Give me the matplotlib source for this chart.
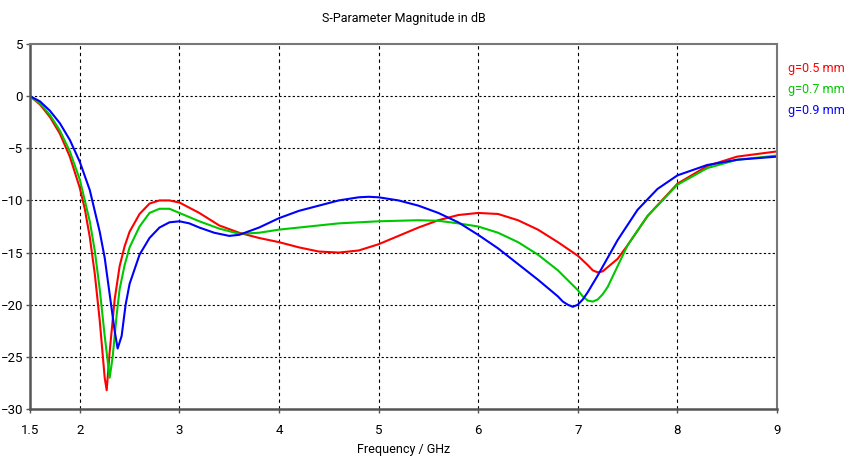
import matplotlib
matplotlib.use("Agg")
import matplotlib.pyplot as plt

plt.rcParams["font.family"] = ["Roboto", "DejaVu Sans"]

# g = 0.5 mm
f_red = [1.5, 1.6, 1.7, 1.8, 1.9, 2.0, 2.05, 2.1, 2.15, 2.2, 2.25, 2.27, 2.3, 2.35, 2.4, 2.45,
         2.5, 2.6, 2.7, 2.8, 2.9, 3.0, 3.2, 3.4, 3.6, 3.8, 4.0, 4.2, 4.4, 4.6, 4.8, 5.0,
         5.2, 5.4, 5.6, 5.8, 6.0, 6.2, 6.4, 6.6, 6.8, 7.0, 7.1, 7.15, 7.2, 7.25, 7.3, 7.4, 7.5, 7.7,
         8.0, 8.3, 8.6, 9.0]
s_red = [0, -0.8, -2.0, -3.6, -5.8, -8.8, -10.8, -13.5, -17, -21.5, -27, -28.2, -24.5, -19.5, -16.3, -14.4,
         -13.0, -11.3, -10.3, -10.0, -10.0, -10.2, -11.2, -12.4, -13.1, -13.6, -14.0, -14.5, -14.9, -15.0, -14.8, -14.2,
         -13.4, -12.6, -11.9, -11.4, -11.2, -11.3, -11.9, -12.8, -14.0, -15.3, -16.2, -16.7, -16.9, -16.8, -16.4, -15.6, -14.3, -11.5,
         -8.4, -6.7, -5.8, -5.3]

# g = 0.7 mm
f_green = [1.5, 1.6, 1.7, 1.8, 1.9, 2.0, 2.1, 2.15, 2.2, 2.25, 2.3, 2.33, 2.37, 2.4, 2.45,
           2.5, 2.6, 2.7, 2.8, 2.9, 3.0, 3.2, 3.4, 3.6, 3.8, 4.0, 4.2, 4.4, 4.6, 4.8, 5.0,
           5.2, 5.4, 5.6, 5.8, 6.0, 6.2, 6.4, 6.6, 6.8, 7.0, 7.05, 7.1, 7.15, 7.2, 7.25, 7.3, 7.4, 7.5, 7.7,
           8.0, 8.3, 8.6, 9.0]
s_green = [0, -0.7, -1.8, -3.3, -5.3, -8.0, -12.0, -14.8, -18.5, -23, -27.0, -25, -21, -18.5, -16.2,
           -14.5, -12.5, -11.2, -10.8, -10.8, -11.2, -12.0, -12.7, -13.2, -13.1, -12.8, -12.6, -12.4, -12.2, -12.1, -12.0,
           -11.95, -11.9, -11.95, -12.2, -12.5, -13.1, -14.0, -15.2, -16.7, -18.6, -19.2, -19.6, -19.7, -19.5, -19.0, -18.3, -16.3, -14.3, -11.5,
           -8.5, -6.9, -6.1, -5.7]

# g = 0.9 mm
f_blue = [1.5, 1.6, 1.7, 1.8, 1.9, 2.0, 2.1, 2.2, 2.25, 2.3, 2.35, 2.38, 2.42, 2.46, 2.5,
          2.6, 2.7, 2.8, 2.9, 3.0, 3.1, 3.2, 3.35, 3.5, 3.6, 3.8, 4.0, 4.2, 4.4, 4.6, 4.8, 4.9,
          5.0, 5.2, 5.4, 5.6, 5.8, 6.0, 6.2, 6.4, 6.6, 6.8, 6.85, 6.9, 6.95, 7.0, 7.05, 7.1, 7.2, 7.4, 7.6,
          7.8, 8.0, 8.3, 8.6, 9.0]
s_blue = [0, -0.5, -1.4, -2.6, -4.2, -6.3, -9.0, -13.0, -15.5, -19, -22.5, -24.2, -23, -20, -18,
          -15.2, -13.6, -12.6, -12.1, -12.0, -12.2, -12.6, -13.1, -13.4, -13.3, -12.6, -11.7, -11.0, -10.5, -10.0, -9.7, -9.65,
          -9.7, -10.0, -10.5, -11.2, -12.1, -13.3, -14.6, -16.1, -17.6, -19.2, -19.7, -20.0, -20.2, -20.0, -19.5, -18.8, -17.2, -13.8, -10.9,
          -8.9, -7.6, -6.6, -6.1, -5.8]

labels = ["g=0.5 mm", "g=0.7 mm", "g=0.9 mm"]
colors = ["#ff0000", "#00c800", "#0000ff"]

x_ticks = [1.5, 2, 3, 4, 5, 6, 7, 8, 9]
y_ticks = [-30, -25, -20, -15, -10, -5, 0, 5]

fig = plt.figure(figsize=(8.45, 4.65), dpi=100)
ax = fig.add_axes([0.0355, 0.1204, 0.884, 0.785])

for fx, sy, c in zip([f_red, f_green, f_blue], [s_red, s_green, s_blue], colors):
    ax.plot(fx, sy, color=c, lw=1.5)

ax.set_xlim(1.5, 9)
ax.set_ylim(-30, 5)
ax.set_xticks(x_ticks)
ax.set_xticklabels(["1.5", "2", "3", "4", "5", "6", "7", "8", "9"])
ax.set_yticks(y_ticks)

for x in x_ticks[1:-1]:
    ax.axvline(x, color="black", lw=0.8, ls=(0, (3, 3)), zorder=0)
for y in y_ticks[1:-1]:
    ax.axhline(y, color="black", lw=0.8, ls=(0, (2, 2)), zorder=0)

for side in ["left", "bottom"]:
    ax.spines[side].set_color("#555555")
    ax.spines[side].set_linewidth(1.8)
for side in ["top", "right"]:
    ax.spines[side].set_color("#777777")
    ax.spines[side].set_linewidth(1.5)

ax.tick_params(direction="out", length=3, width=1, color="#555555", labelsize=9.5, pad=2)
ax.tick_params(axis="x", pad=8)

ax.set_title("S-Parameter Magnitude in dB", fontsize=9, pad=16)
ax.set_xlabel("Frequency / GHz", fontsize=9, labelpad=4)

for i, (lab, c) in enumerate(zip(labels, colors)):
    fig.text(0.932, 0.853 - i * 0.045, lab, color=c, fontsize=9, va="center", ha="left")

fig.savefig("out.png", dpi=100)
